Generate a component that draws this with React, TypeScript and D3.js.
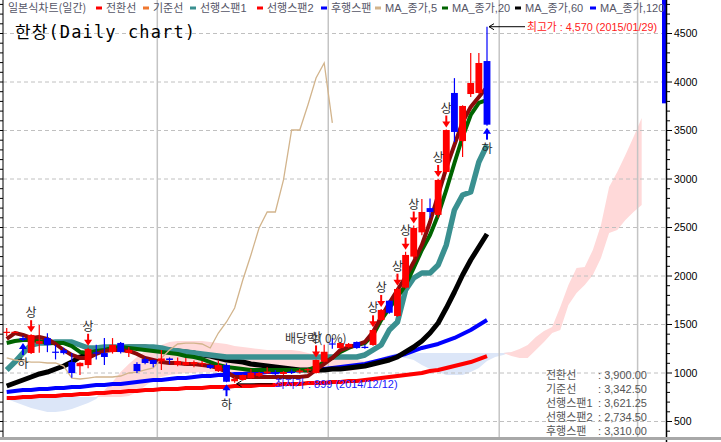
import * as d3 from "d3";
import { useEffect } from "react";

// daily candles, bar 0 = 2014/11/04 ... bar 59 = 2015/01/29
const opens = [1420, 1420, 1360, 1206, 1300, 1360, 1220, 1235, 1113, 1070, 1082, 1212, 1206, 1216, 1310, 1206, 1093, 1144, 1134, 1120, 1150, 1082, 1082, 1090, 1090, 1082, 1020, 1082, 915, 928, 948, 970, 995, 1000, 990, 1015, 1010, 1030, 1000, 1116, 1305, 1257, 1268, 1320, 1270, 1289, 1546, 1745, 1588, 1880, 2200, 2450, 2700, 2630, 3072, 3887, 3391, 3876, 3887, 4216];
const highs = [1464, 1428, 1385, 1400, 1495, 1410, 1290, 1260, 1205, 1110, 1260, 1290, 1360, 1360, 1320, 1268, 1110, 1160, 1140, 1237, 1160, 1160, 1155, 1130, 1125, 1090, 1130, 1100, 960, 985, 1040, 1010, 1060, 1030, 1020, 1035, 1040, 1050, 1140, 1290, 1360, 1320, 1310, 1325, 1290, 1450, 1660, 1750, 1880, 2250, 2520, 2794, 2800, 3000, 3510, 4040, 3760, 4299, 4299, 4570];
const lows = [1381, 1418, 1330, 1195, 1210, 1215, 1140, 1190, 950, 980, 1050, 1140, 1082, 1200, 1200, 1165, 1000, 1090, 1060, 1030, 1090, 1070, 1075, 1060, 1065, 1040, 1010, 905, 899, 920, 940, 960, 990, 975, 980, 990, 995, 1000, 995, 1110, 1250, 1250, 1260, 1250, 1250, 1280, 1540, 1610, 1580, 1870, 2180, 2420, 2600, 2600, 3060, 3381, 3227, 3845, 3880, 3550];
const closes = [1425, 1425, 1340, 1392, 1330, 1290, 1215, 1205, 1000, 1105, 1247, 1210, 1165, 1290, 1216, 1237, 1020, 1103, 1093, 1150, 1134, 1124, 1113, 1113, 1103, 1052, 1082, 910, 940, 979, 1003, 1000, 1015, 990, 1010, 1000, 1025, 1040, 1134, 1219, 1300, 1309, 1300, 1257, 1265, 1443, 1650, 1621, 1866, 2217, 2495, 2660, 2660, 2990, 3505, 3485, 3753, 3990, 4196, 3560];

// indicator lines (one value per bar)
const tenkan = [1351, 1412, 1392, 1361, 1371, 1351, 1299, 1237, 1186, 1155, 1155, 1196, 1227, 1237, 1237, 1227, 1196, 1155, 1134, 1113, 1103, 1103, 1093, 1093, 1082, 1072, 1052, 1010, 959, 959, 959, 959, 959, 959, 959, 959, 959, 969, 1031, 1093, 1155, 1237, 1268, 1289, 1320, 1423, 1577, 1722, 1856, 1990, 2144, 2320, 2557, 2835, 3114, 3351, 3588, 3742, 3846, 3949];
const greenLine = [1309, 1330, 1340, 1340, 1330, 1309, 1309, 1309, 1278, 1217, 1206, 1227, 1237, 1258, 1268, 1258, 1247, 1237, 1227, 1217, 1206, 1196, 1175, 1165, 1144, 1113, 1082, 1062, 1052, 1041, 1031, 1031, 1031, 1031, 1031, 1031, 1031, 1031, 1062, 1113, 1155, 1217, 1258, 1289, 1309, 1392, 1546, 1670, 1784, 1907, 2083, 2268, 2423, 2629, 2887, 3165, 3433, 3660, 3784, 3815];
const kijun = [1031, 1113, 1206, 1289, 1309, 1309, 1320, 1320, 1320, 1289, 1258, 1258, 1268, 1268, 1268, 1268, 1268, 1268, 1268, 1258, 1237, 1227, 1217, 1206, 1196, 1186, 1175, 1165, 1165, 1165, 1165, 1165, 1165, 1165, 1165, 1165, 1165, 1165, 1165, 1165, 1165, 1165, 1165, 1165, 1186, 1237, 1289, 1443, 1526, 1856, 1979, 2031, 2031, 2113, 2320, 2681, 2835, 2866, 3175, 3351];
const blackLine = [866, 897, 928, 959, 990, 1010, 1041, 1072, 1113, 1165, 1196, 1227, 1247, 1258, 1258, 1268, 1268, 1268, 1258, 1247, 1237, 1227, 1217, 1206, 1186, 1175, 1155, 1134, 1124, 1113, 1093, 1082, 1072, 1062, 1052, 1041, 1031, 1031, 1031, 1031, 1041, 1041, 1052, 1062, 1072, 1093, 1113, 1134, 1165, 1217, 1268, 1330, 1412, 1515, 1670, 1835, 2010, 2165, 2299, 2433];
const blueLine = [804, 814, 825, 825, 835, 835, 845, 845, 856, 856, 866, 876, 876, 887, 887, 897, 907, 918, 928, 928, 938, 948, 948, 959, 969, 969, 979, 979, 990, 990, 1000, 1000, 1010, 1010, 1021, 1021, 1031, 1031, 1041, 1041, 1052, 1062, 1072, 1082, 1093, 1113, 1134, 1155, 1175, 1196, 1227, 1258, 1278, 1299, 1330, 1361, 1402, 1443, 1495, 1546];
const redLine = [742, 742, 753, 753, 763, 763, 763, 773, 773, 784, 784, 794, 794, 804, 804, 814, 814, 825, 825, 835, 835, 835, 845, 845, 845, 856, 856, 856, 866, 866, 866, 876, 876, 876, 887, 887, 887, 897, 897, 897, 907, 907, 918, 918, 928, 938, 948, 959, 969, 979, 990, 1000, 1021, 1031, 1052, 1072, 1093, 1113, 1144, 1175];
// lagging span, drawn from bar 0
const lagging = [1155, 1134, 1124, 1113, 1113, 1103, 1103, 1072, 948, 938, 948, 959, 959, 959, 969, 1000, 1010, 1031, 1052, 1155, 1237, 1299, 1309, 1309, 1299, 1258, 1412, 1526, 1670, 1959, 2217, 2495, 2660, 2660, 2990, 3505, 3505, 3763, 4041, 4196, 3578];
// leading spans, bars 0..78
const spanA = [732, 701, 670, 639, 619, 598, 598, 608, 629, 660, 691, 732, 825, 907, 1010, 1093, 1165, 1227, 1258, 1289, 1320, 1330, 1330, 1330, 1330, 1320, 1309, 1299, 1278, 1268, 1258, 1247, 1237, 1237, 1237, 1237, 1227, 1206, 1186, 1175, 1165, 1155, 1144, 1134, 1124, 1134, 1155, 1165, 1165, 1155, 1134, 1082, 1041, 1010, 979, 979, 979, 1010, 1052, 1124, 1165, 1186, 1217, 1247, 1289, 1371, 1433, 1474, 1680, 1907, 2083, 2093, 2268, 2526, 2918, 3072, 3248, 3433, 3629];
const spanB = [753, 753, 753, 753, 753, 753, 753, 753, 753, 753, 753, 753, 753, 753, 753, 763, 804, 866, 928, 959, 979, 990, 1000, 1000, 1010, 1010, 1010, 1010, 1010, 1010, 1010, 1021, 1021, 1021, 1021, 1021, 1021, 1021, 1021, 1021, 1021, 1021, 1021, 1031, 1052, 1082, 1134, 1186, 1206, 1206, 1206, 1206, 1206, 1206, 1206, 1206, 1206, 1206, 1206, 1206, 1206, 1206, 1175, 1155, 1155, 1237, 1320, 1412, 1443, 1701, 1825, 1907, 2010, 2186, 2443, 2474, 2577, 2660, 2732];

const upSignals = [3, 10, 38, 45, 46, 48, 49, 50, 53, 54];
const downSignals = [2, 27, 59];
const monthStarts = [19, 40, 61, 78];
const dateTickBars = [0, 9, 19, 29];
const dateTickLabels = ["11/04", "11/17", "12/01", "12/15"];
const yTicks = [500, 1000, 1500, 2000, 2500, 3000, 3500, 4000, 4500];

const legendItems = [
  { label: "전환선", color: "#ff0000", x: 96 },
  { label: "기준선", color: "#f07830", x: 143 },
  { label: "선행스팬1", color: "#3a9090", x: 190 },
  { label: "선행스팬2", color: "#ff0000", x: 257 },
  { label: "후행스팬", color: "#0000ff", x: 321 },
  { label: "MA_종가,5", color: "#d2b48c", x: 375 },
  { label: "MA_종가,20", color: "#006400", x: 442 },
  { label: "MA_종가,60", color: "#000000", x: 515 },
  { label: "MA_종가,120", color: "#0000ff", x: 590 },
];
const readoutLabels = ["전환선", "기준선", "선행스팬1", "선행스팬2", "후행스팬"];
const readoutValues = ["3,900.00", "3,342.50", "3,621.25", "2,734.50", "3,310.00"];

const FONT = "'Liberation Sans', 'Noto Sans CJK KR', sans-serif";
const KFONT = "'Noto Sans CJK KR', sans-serif";

export default function App() {
  useEffect(() => {
    document.body.style.margin = "0";
  }, []);

  const width = 721;
  const height = 442;
  const plotL = 3;
  const plotR = 666;
  const plotB = 437;

  const x = d3.scaleLinear().domain([0, 59]).range([6.7, 487]);
  const y = d3.scaleLinear().domain([1000, 4500]).range([373, 33.5]);
  const step = x(1) - x(0);

  const line = d3
    .line<number>()
    .x((_, i) => x(i))
    .y((d) => y(d));

  const idx = d3.range(spanA.length);
  const pinkArea = d3
    .area<number>()
    .x((i) => x(i))
    .y0((i) => y(spanB[i]))
    .y1((i) => y(Math.max(spanA[i], spanB[i])));
  const blueArea = d3
    .area<number>()
    .x((i) => x(i))
    .y0((i) => y(spanA[i]))
    .y1((i) => y(Math.max(spanA[i], spanB[i])));

  const minorTicks = d3.range(400, 4900, 100).filter((v) => y(v) >= 0 && y(v) <= plotB);

  const hiIdx = d3.maxIndex(highs);
  const loIdx = d3.minIndex(lows);

  const lines: [number[], string, number][] = [
    [redLine, "#ff0000", 4],
    [blueLine, "#0000ff", 4],
    [blackLine, "#000000", 5],
    [kijun, "#3a9090", 5.5],
    [greenLine, "#006400", 4],
    [tenkan, "#8b0a0a", 4],
  ];

  return (
    <svg width={width} height={height} style={{ display: "block", background: "#fff" }}>
      <defs>
        <clipPath id="plot">
          <rect x={plotL} y={0} width={plotR - plotL} height={plotB} />
        </clipPath>
      </defs>

      <g clipPath="url(#plot)">
        <path d={blueArea(idx) || ""} fill="#dce6f8" />
        <path d={pinkArea(idx) || ""} fill="#ffd9d9" />

        {yTicks.map((v) => (
          <line key={v} x1={plotL} x2={plotR} y1={y(v)} y2={y(v)} stroke="#c0c0c0" strokeDasharray="4,3" />
        ))}
        {monthStarts.map((i) => (
          <line key={i} x1={x(i - 0.5)} x2={x(i - 0.5)} y1={0} y2={plotB} stroke="#c4c4c4" strokeWidth={1.5} />
        ))}

        {lines.map(([data, color, w], k) => (
          <path key={k} d={line(data) || ""} fill="none" stroke={color} strokeWidth={w} strokeLinejoin="round" />
        ))}
        <path d={line(lagging) || ""} fill="none" stroke="#d2b48c" strokeWidth={1.3} />

        {closes.map((c, i) => {
          const up = c >= opens[i];
          const color = up ? "#ff0000" : "#0000ff";
          const top = y(Math.max(c, opens[i]));
          const bot = y(Math.min(c, opens[i]));
          return (
            <g key={i}>
              <line x1={x(i)} x2={x(i)} y1={y(highs[i])} y2={y(lows[i])} stroke={color} strokeWidth={1.2} />
              <rect x={x(i) - step * 0.42} y={top} width={step * 0.84} height={Math.max(1.2, bot - top)} fill={color} />
            </g>
          );
        })}

        {upSignals.map((i) => {
          const cx = x(i);
          const tip = y(highs[i]) - 2;
          const top = tip - 12;
          return (
            <g key={"u" + i}>
              <rect x={cx - 1} y={top} width={2} height={7} fill="#ff0000" />
              <path d={`M${cx - 4},${tip - 6}L${cx + 4},${tip - 6}L${cx},${tip}Z`} fill="#ff0000" />
              <text x={cx} y={top - 3} textAnchor="middle" fontFamily={KFONT} fontSize={12} fill="#2a2a2a">
                상
              </text>
            </g>
          );
        })}
        {downSignals.map((i) => {
          const cx = x(i);
          const tip = y(lows[i]) + 2;
          const bot = tip + 12;
          return (
            <g key={"d" + i}>
              <path d={`M${cx - 4},${tip + 6}L${cx + 4},${tip + 6}L${cx},${tip}Z`} fill="#0000ff" />
              <rect x={cx - 1} y={tip + 5} width={2} height={7} fill="#0000ff" />
              <text x={cx} y={bot + 13} textAnchor="middle" fontFamily={KFONT} fontSize={12} fill="#2a2a2a">
                하
              </text>
            </g>
          );
        })}

        <text x={x(38) - 31} y={343} fontFamily={KFONT} fontSize={12} fill="#333">
          배당락( 0%)
        </text>

        {/* highest / lowest markers */}
        <g stroke="#000" strokeWidth={1}>
          <line x1={x(hiIdx) + 2} x2={x(hiIdx) + 38} y1={y(highs[hiIdx])} y2={y(highs[hiIdx])} />
          <path d={`M${x(hiIdx) + 7},${y(highs[hiIdx]) - 3}L${x(hiIdx) + 2},${y(highs[hiIdx])}L${x(hiIdx) + 7},${y(highs[hiIdx]) + 3}`} fill="none" />
          <line x1={x(loIdx) + 2} x2={x(loIdx) + 38} y1={y(lows[loIdx]) + 1} y2={y(lows[loIdx]) + 1} />
          <path d={`M${x(loIdx) + 7},${y(lows[loIdx]) - 2}L${x(loIdx) + 2},${y(lows[loIdx]) + 1}L${x(loIdx) + 7},${y(lows[loIdx]) + 4}`} fill="none" />
        </g>
        <text x={x(hiIdx) + 40} y={y(highs[hiIdx]) + 4} fontFamily={FONT} fontSize={11} fill="#ff2020" textLength={130} lengthAdjust="spacingAndGlyphs">
          최고가 : 4,570 (2015/01/29)
        </text>
        <text x={x(loIdx) + 40} y={y(lows[loIdx]) + 5} fontFamily={FONT} fontSize={11.5} fill="#2020ff" textLength={123} lengthAdjust="spacingAndGlyphs">
          최저가 : 899 (2014/12/12)
        </text>
      </g>

      {/* left edge */}
      <line x1={plotL} x2={plotL} y1={0} y2={plotB} stroke="#000" />
      {minorTicks.map((v) => (
        <line key={"l" + v} x1={0} x2={plotL} y1={y(v)} y2={y(v)} stroke="#000" />
      ))}

      {/* right axis */}
      <rect x={662} y={0} width={4} height={y(3780)} fill="#0000ff" />
      <line x1={plotR + 0.5} x2={plotR + 0.5} y1={0} y2={height} stroke="#000" strokeWidth={1.5} />
      {minorTicks.map((v) => (
        <line key={"r" + v} x1={plotR} x2={plotR + (v % 500 === 0 ? 6 : 4)} y1={y(v)} y2={y(v)} stroke="#000" />
      ))}
      {yTicks.map((v) => (
        <text key={v} x={674} y={y(v)} dy="0.36em" fontFamily={FONT} fontSize={10.5} fill="#000">
          {v}
        </text>
      ))}

      {/* bottom */}
      <rect x={0} y={plotB} width={width} height={3} fill="#a8a8a8" />
      {dateTickBars.map((b, k) => (
        <text key={b} x={Math.max(7, x(b - 0.5))} y={451} fontFamily={FONT} fontSize={12} fill="#000">
          {dateTickLabels[k]}
        </text>
      ))}

      {/* legend */}
      <text x={8} y={12} fontFamily={KFONT} fontSize={11} fill="#555566">
        일본식차트(일간)
      </text>
      {legendItems.map((d) => (
        <g key={d.label}>
          <rect x={d.x} y={6.5} width={6} height={3} fill={d.color} />
          <text x={d.x + 10} y={12} fontFamily={FONT} fontSize={11} fill="#555566">
            {d.label}
          </text>
        </g>
      ))}

      <text x={15} y={38} fontFamily="'DejaVu Sans Mono', 'Noto Sans CJK KR', monospace" fontSize={17} fill="#000" textLength={180} lengthAdjust="spacing">
        한창(Daily chart)
      </text>

      {readoutLabels.map((l, k) => (
        <g key={l}>
          <text x={546} y={379 + k * 14} fontFamily={FONT} fontSize={11} fill="#555">
            {l}
          </text>
          <text x={598} y={379 + k * 14} fontFamily={FONT} fontSize={11} fill="#555">
            : {readoutValues[k]}
          </text>
        </g>
      ))}
    </svg>
  );
}
